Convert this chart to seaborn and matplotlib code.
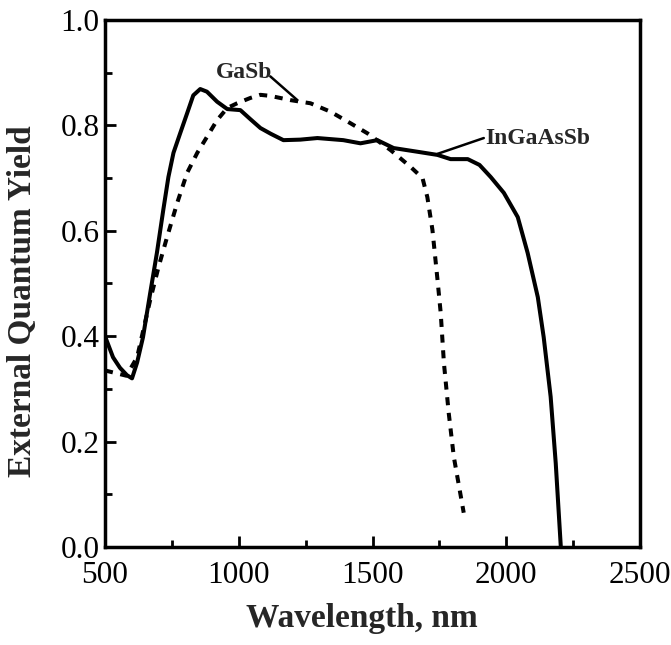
import matplotlib
matplotlib.use("Agg")
import matplotlib.pyplot as plt
import seaborn as sns
import pandas as pd
from matplotlib.ticker import MultipleLocator

# Data
ingaassb_wl = [500, 530, 556, 582, 601, 620, 642, 669, 694, 718, 737, 756, 781, 807, 830,
               856, 881, 919, 957, 1006, 1043, 1081, 1120, 1167, 1230, 1294, 1391, 1455,
               1518, 1579, 1668, 1743, 1792, 1856, 1900, 1942, 1991, 2043, 2080, 2118,
               2140, 2166, 2185, 2204]
ingaassb_eqy = [0.40, 0.36, 0.34, 0.326, 0.32, 0.35, 0.398, 0.482, 0.558, 0.64, 0.702,
                0.748, 0.785, 0.823, 0.857, 0.869, 0.864, 0.845, 0.831, 0.829, 0.812,
                0.795, 0.784, 0.772, 0.773, 0.776, 0.772, 0.766, 0.772, 0.757, 0.75,
                0.744, 0.736, 0.736, 0.725, 0.702, 0.672, 0.626, 0.558, 0.474, 0.398,
                0.285, 0.159, 0.0]
gasb_wl = [500, 540, 580, 620, 669, 700, 732, 770, 807, 845, 881, 919, 957, 994, 1043,
           1081, 1118, 1193, 1268, 1343, 1418, 1481, 1568, 1643, 1687, 1705, 1724, 1743,
           1755, 1767, 1785, 1804, 1841]
gasb_eqy = [0.335, 0.33, 0.325, 0.36, 0.469, 0.531, 0.588, 0.653, 0.71, 0.748, 0.778,
            0.81, 0.833, 0.842, 0.852, 0.858, 0.856, 0.848, 0.842, 0.826, 0.804, 0.785,
            0.753, 0.721, 0.70, 0.664, 0.602, 0.507, 0.444, 0.349, 0.254, 0.171, 0.065]
labels = ["InGaAsSb", "GaSb"]
x_ticks = [500, 1000, 1500, 2000, 2500]
y_ticks = [0.0, 0.2, 0.4, 0.6, 0.8, 1.0]

df = pd.DataFrame({
    "wl": ingaassb_wl + gasb_wl,
    "eqy": ingaassb_eqy + gasb_eqy,
    "cell": [labels[0]] * len(ingaassb_wl) + [labels[1]] * len(gasb_wl),
})

sns.set_theme(style="ticks")
plt.rcParams["font.family"] = ["Liberation Serif", "DejaVu Serif"]

fig = plt.figure(figsize=(6.71, 6.45), dpi=100)
ax = fig.add_axes([105 / 671, 1 - 547 / 645, (640 - 105) / 671, (547 - 20) / 645])

sns.lineplot(data=df, x="wl", y="eqy", style="cell", style_order=labels,
             dashes={labels[0]: "", labels[1]: (2.0, 1.9)}, color="black",
             linewidth=2.9, sort=False, estimator=None, legend=False, ax=ax,
             solid_joinstyle="round", dash_joinstyle="round", dash_capstyle="butt")

ax.set_xlim(500, 2500)
ax.set_ylim(0, 1.0)
ax.set_xticks(x_ticks)
ax.set_yticks(y_ticks)
ax.set_yticklabels([f"{v:.1f}" for v in y_ticks])
ax.xaxis.set_minor_locator(MultipleLocator(250))
ax.yaxis.set_minor_locator(MultipleLocator(0.1))
ax.tick_params(which="both", direction="in", top=False, right=False, width=2,
               labelsize=22.5, colors="black")
ax.tick_params(which="major", length=8)
ax.tick_params(which="minor", length=5)
ax.tick_params(axis="x", which="major", pad=10)
ax.tick_params(axis="y", which="major", pad=4)
for s in ax.spines.values():
    s.set_visible(True)
    s.set_linewidth(2.5)
    s.set_color("black")

ax.set_xlabel("Wavelength, nm", fontsize=24, fontweight="bold")
ax.set_ylabel("External Quantum Yield", fontsize=24, fontweight="bold")
ax.xaxis.set_label_coords(0.48, -0.107)
ax.yaxis.set_label_coords(-0.125, 0.467)

ax.text(1021, 0.90, labels[1], fontsize=17, fontweight="bold", ha="center", va="center")
ax.annotate("", xy=(1219, 0.848), xytext=(1118, 0.893),
            arrowprops=dict(arrowstyle="-", lw=1.8, color="black", shrinkA=0, shrinkB=0))
ax.text(2118, 0.776, labels[0], fontsize=17, fontweight="bold", ha="center", va="center")
ax.annotate("", xy=(1743, 0.746), xytext=(1916, 0.776),
            arrowprops=dict(arrowstyle="-", lw=1.8, color="black", shrinkA=0, shrinkB=0))

fig.savefig("out.png", dpi=100, facecolor="white")
